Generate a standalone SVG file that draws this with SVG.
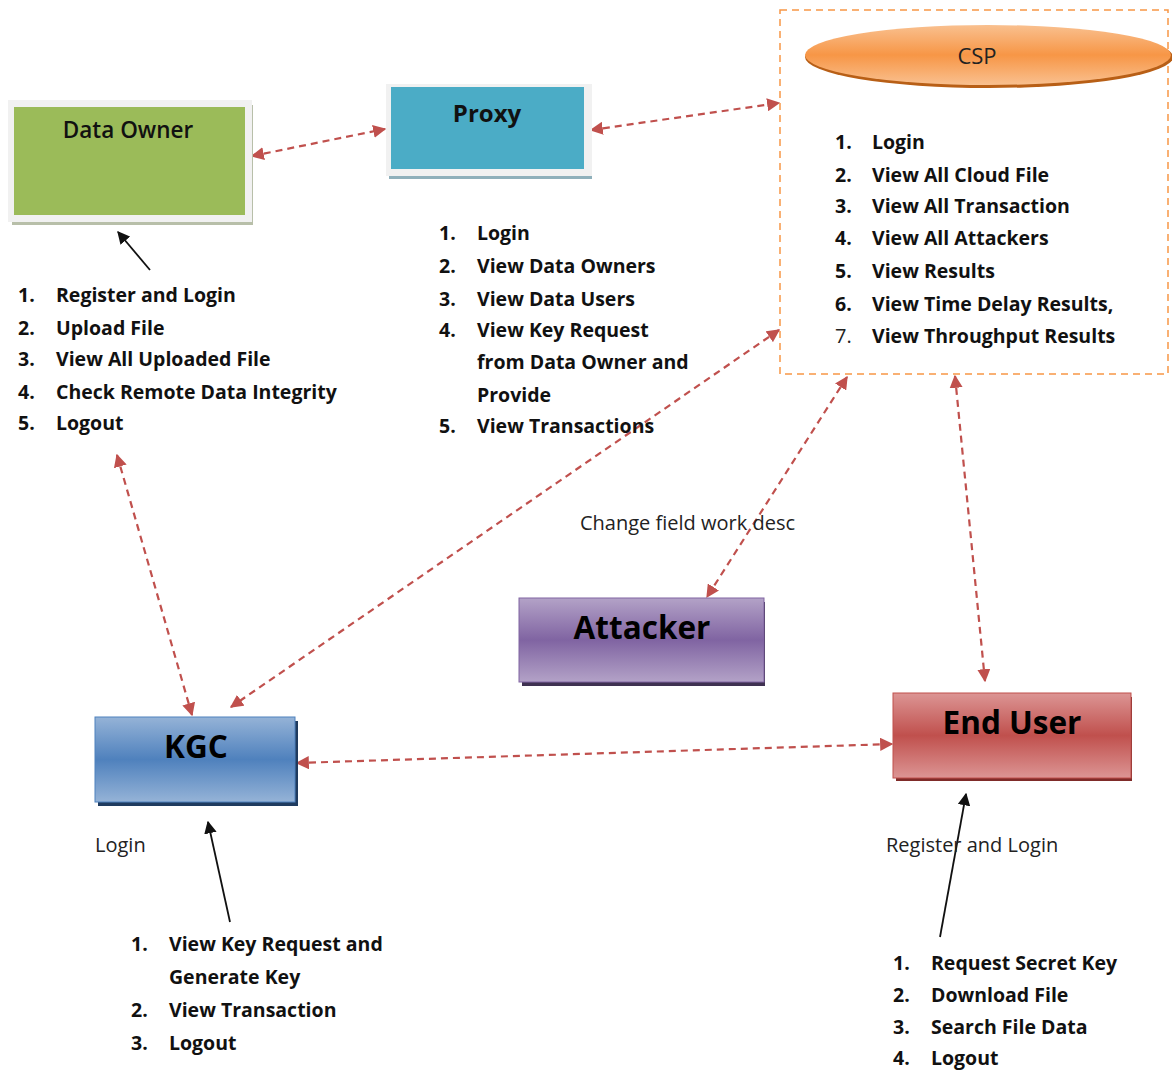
<svg xmlns="http://www.w3.org/2000/svg" width="1172" height="1072" viewBox="0 0 1172 1072">
<defs>
<style>
.t{font-family:"Open Sans",Lato,"Liberation Sans",sans-serif;font-weight:bold;font-size:19.5px;fill:#111}
.n{font-family:"Open Sans",Lato,"Liberation Sans",sans-serif;font-size:20px;fill:#222}
.title{font-family:"Open Sans",Lato,"Liberation Sans",sans-serif;font-size:31.5px;font-weight:bold;fill:#000;text-anchor:middle}
.red{stroke:#c0504d;stroke-width:2.2;stroke-dasharray:7,5;fill:none;marker-start:url(#rh);marker-end:url(#rh)}
.blk{stroke:#111;stroke-width:1.8;fill:none;marker-end:url(#bh)}
</style>
<marker id="rh" viewBox="0 0 10 10" refX="9" refY="5" markerWidth="6" markerHeight="6" orient="auto-start-reverse" markerUnits="strokeWidth"><path d="M0,0 L10,5 L0,10 z" fill="#c0504d"/></marker>
<marker id="bh" viewBox="0 0 10 10" refX="9" refY="5" markerWidth="7" markerHeight="7" orient="auto" markerUnits="strokeWidth"><path d="M0,0 L10,5 L0,10 z" fill="#111"/></marker>
<linearGradient id="gPurple" x1="0" y1="0" x2="0" y2="1"><stop offset="0" stop-color="#b3a2c7"/><stop offset="0.5" stop-color="#8064a2"/><stop offset="1" stop-color="#b3a2c7"/></linearGradient>
<linearGradient id="gBlue" x1="0" y1="0" x2="0" y2="1"><stop offset="0" stop-color="#95b3d7"/><stop offset="0.5" stop-color="#4f81bd"/><stop offset="1" stop-color="#95b3d7"/></linearGradient>
<linearGradient id="gRed" x1="0" y1="0" x2="0" y2="1"><stop offset="0" stop-color="#dc9594"/><stop offset="0.5" stop-color="#c0504d"/><stop offset="1" stop-color="#dc9594"/></linearGradient>
<linearGradient id="gOrange" x1="0" y1="0" x2="0" y2="1"><stop offset="0" stop-color="#f9c08f"/><stop offset="0.5" stop-color="#f79646"/><stop offset="1" stop-color="#f9c08f"/></linearGradient>
</defs>
<rect width="1172" height="1072" fill="#fff"/>

<g id="connectors">
<line class="red" x1="252" y1="156" x2="385" y2="129"/>
<line class="red" x1="591" y1="130" x2="779" y2="103"/>
<line class="red" x1="117" y1="455" x2="192" y2="715"/>
<line class="red" x1="779" y1="330" x2="231" y2="707"/>
<line class="red" x1="847" y1="377" x2="707" y2="597"/>
<line class="red" x1="955" y1="376" x2="985" y2="681"/>
<line class="red" x1="297" y1="763" x2="892" y2="744"/>
<line class="blk" x1="150" y1="270" x2="118" y2="232"/>
<line class="blk" x1="230" y1="922" x2="208" y2="822"/>
<line class="blk" x1="940" y1="937" x2="966" y2="794"/>
</g>

<g id="data-owner">
<rect x="12" y="105" width="241" height="120" fill="#b8bfa9"/>
<rect x="8" y="100" width="244" height="122" fill="#f1f1f1"/>
<rect x="14" y="107" width="231" height="108" fill="#9bbb59"/>
<text x="128" y="138" text-anchor="middle" font-family="'Open Sans',Lato,'Liberation Sans',sans-serif" font-size="22.5" font-weight="600" fill="#111">Data Owner</text>
</g>

<g id="data-owner-list">
<text class="t" x="18" y="302">1.</text><text class="t" x="56" y="302">Register and Login</text>
<text class="t" x="18" y="335">2.</text><text class="t" x="56" y="335">Upload File</text>
<text class="t" x="18" y="366">3.</text><text class="t" x="56" y="366">View All Uploaded File</text>
<text class="t" x="18" y="399">4.</text><text class="t" x="56" y="399">Check Remote Data Integrity</text>
<text class="t" x="18" y="430">5.</text><text class="t" x="56" y="430">Logout</text>
</g>

<g id="proxy">
<rect x="389" y="88" width="203" height="91" fill="#8fb0bb"/>
<rect x="386" y="84" width="206" height="92" fill="#f1f1f1"/>
<rect x="391" y="87" width="193" height="82" fill="#4bacc6"/>
<text x="487" y="122" text-anchor="middle" font-family="'Open Sans',Lato,'Liberation Sans',sans-serif" font-size="24" font-weight="bold" fill="#111">Proxy</text>
</g>

<g id="proxy-list">
<text class="t" x="439" y="240">1.</text><text class="t" x="477" y="240">Login</text>
<text class="t" x="439" y="273">2.</text><text class="t" x="477" y="273">View Data Owners</text>
<text class="t" x="439" y="306">3.</text><text class="t" x="477" y="306">View Data Users</text>
<text class="t" x="439" y="337">4.</text><text class="t" x="477" y="337">View Key Request</text>
<text class="t" x="477" y="369">from Data Owner and</text>
<text class="t" x="477" y="402">Provide</text>
<text class="t" x="439" y="433">5.</text><text class="t" x="477" y="433">View Transactions</text>
</g>

<g id="csp">
<rect x="780" y="10" width="388" height="364" fill="none" stroke="#f79646" stroke-width="1.5" stroke-dasharray="7,5"/>
<ellipse cx="989" cy="57" rx="184" ry="31" fill="#b85f16"/>
<ellipse cx="988" cy="55" rx="183" ry="30" fill="url(#gOrange)"/>
<text x="977" y="64" text-anchor="middle" font-family="'Open Sans',Lato,'Liberation Sans',sans-serif" font-size="22" fill="#222">CSP</text>
<text class="t" x="835" y="149">1.</text><text class="t" x="872" y="149">Login</text>
<text class="t" x="835" y="182">2.</text><text class="t" x="872" y="182">View All Cloud File</text>
<text class="t" x="835" y="213">3.</text><text class="t" x="872" y="213">View All Transaction</text>
<text class="t" x="835" y="245">4.</text><text class="t" x="872" y="245">View All Attackers</text>
<text class="t" x="835" y="278">5.</text><text class="t" x="872" y="278">View Results</text>
<text class="t" x="835" y="311">6.</text><text class="t" x="872" y="311">View Time Delay Results,</text>
<text class="n" x="835" y="343">7.</text><text class="t" x="872" y="343">View Throughput Results</text>
</g>

<g id="change-label">
<text class="n" x="580" y="530">Change field work desc</text>
</g>

<g id="attacker">
<rect x="522" y="602" width="243" height="84" fill="#3f3151"/>
<rect x="519" y="598" width="245" height="84" fill="url(#gPurple)" stroke="#8064a2" stroke-width="1"/>
<text class="title" x="642" y="639">Attacker</text>
</g>

<g id="kgc">
<rect x="98" y="721" width="200" height="85" fill="#1f3b5f"/>
<rect x="95" y="717" width="200" height="85" fill="url(#gBlue)" stroke="#4f81bd" stroke-width="1"/>
<text class="title" x="196" y="758">KGC</text>
</g>

<g id="kgc-labels">
<text class="n" x="95" y="852">Login</text>
<text class="t" x="131" y="951">1.</text><text class="t" x="169" y="951">View Key Request and</text>
<text class="t" x="169" y="984">Generate Key</text>
<text class="t" x="131" y="1017">2.</text><text class="t" x="169" y="1017">View Transaction</text>
<text class="t" x="131" y="1050">3.</text><text class="t" x="169" y="1050">Logout</text>
</g>

<g id="end-user">
<rect x="896" y="697" width="236" height="84" fill="#7f2b29"/>
<rect x="893" y="693" width="238" height="85" fill="url(#gRed)" stroke="#c0504d" stroke-width="1"/>
<text class="title" x="1012" y="734">End User</text>
</g>

<g id="end-user-labels">
<text class="n" x="886" y="852">Register and Login</text>
<text class="t" x="893" y="970">1.</text><text class="t" x="931" y="970">Request Secret Key</text>
<text class="t" x="893" y="1002">2.</text><text class="t" x="931" y="1002">Download File</text>
<text class="t" x="893" y="1034">3.</text><text class="t" x="931" y="1034">Search File Data</text>
<text class="t" x="893" y="1065">4.</text><text class="t" x="931" y="1065">Logout</text>
</g>
</svg>
